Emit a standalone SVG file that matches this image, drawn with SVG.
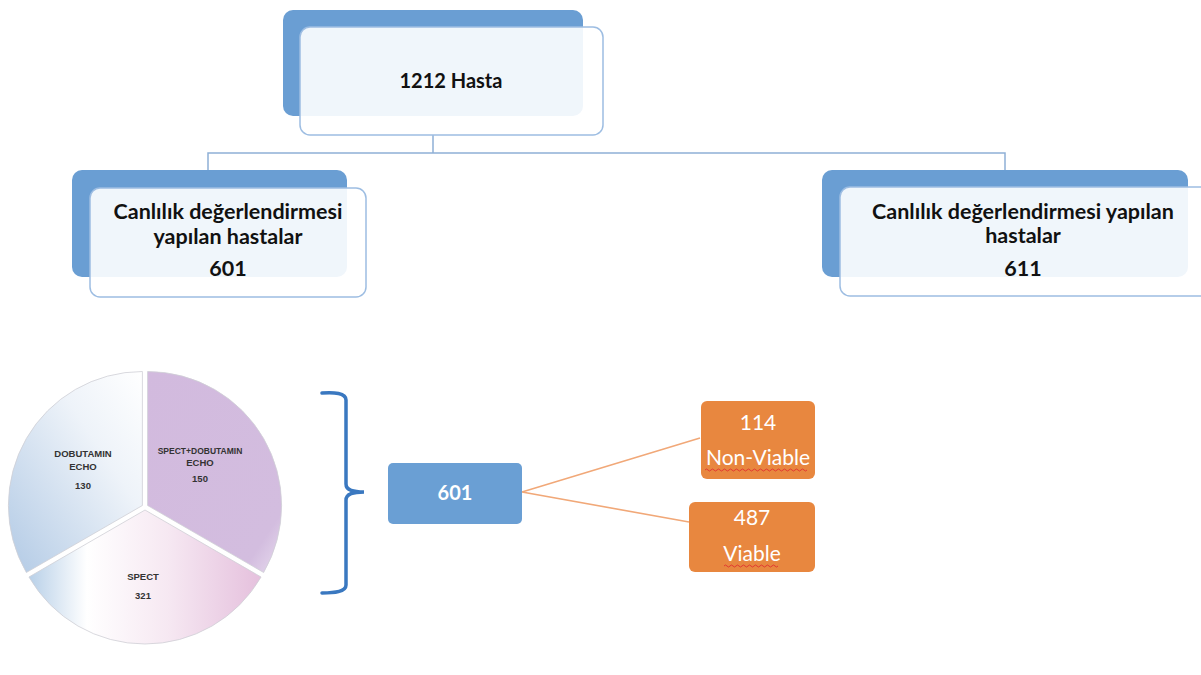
<svg xmlns="http://www.w3.org/2000/svg" width="1201" height="675" viewBox="0 0 1201 675">
<style>
.back{fill:#6a9ed3}
.front{fill:#ffffff;fill-opacity:0.9;stroke:#9dbde2;stroke-width:1.5}
.t{font-family:Lato,"Liberation Sans",sans-serif;font-weight:bold;font-size:21.5px;fill:#111;text-anchor:middle}
.pt{font-family:"Liberation Sans",Arial,sans-serif;font-weight:bold;font-size:9.5px;fill:#333;text-anchor:middle}
.ot{font-family:Lato,"Liberation Sans",sans-serif;font-size:21px;fill:#fff;text-anchor:middle}
.orange{fill:#e8873f}
.conn{fill:none;stroke:#8fb0d6;stroke-width:1.5}
.oconn{fill:none;stroke:#f1a878;stroke-width:1.6}
.wave{fill:none;stroke:#e03030;stroke-width:0.9}
.slice{stroke:#cfcfd6;stroke-width:0.8}
</style>
<defs>
<linearGradient id="gDob" x1="1" y1="0" x2="0" y2="1">
<stop offset="0" stop-color="#ffffff"/>
<stop offset="0.35" stop-color="#eef3f9"/>
<stop offset="1" stop-color="#b2cae5"/>
</linearGradient>
<linearGradient id="gSD" x1="0" y1="0" x2="1" y2="1">
<stop offset="0" stop-color="#d2bade"/>
<stop offset="0.85" stop-color="#d3bddf"/>
<stop offset="1" stop-color="#e8dcef"/>
</linearGradient>
<linearGradient id="gSp" x1="0" y1="0" x2="1" y2="0">
<stop offset="0" stop-color="#b8d0e8"/>
<stop offset="0.25" stop-color="#ffffff"/>
<stop offset="0.6" stop-color="#f6e8f2"/>
<stop offset="1" stop-color="#e5c0dd"/>
</linearGradient>
</defs>

<g id="connectors">
<path class="conn" d="M433 135 V153 M208 170 V153 H1005 V170"/>
<path class="oconn" d="M522 492 L700 438 M522 492 L689 522"/>
</g>

<g id="node-root">
<rect class="back" x="283" y="10" width="300" height="106" rx="10"/>
<rect class="front" x="300" y="27" width="303" height="108" rx="10"/>
<text class="t" x="451" y="88" style="font-size:20px">1212 Hasta</text>
</g>

<g id="node-left">
<rect class="back" x="72" y="170" width="275" height="107" rx="10"/>
<rect class="front" x="90" y="188" width="276" height="109" rx="10"/>
<text class="t" x="228" y="219">Canlılık değerlendirmesi</text>
<text class="t" x="228" y="244">yapılan hastalar</text>
<text class="t" x="228" y="276">601</text>
</g>

<g id="node-right">
<rect class="back" x="822" y="170" width="366" height="107" rx="10"/>
<rect class="front" x="840" y="187" width="380" height="109" rx="10"/>
<text class="t" x="1023" y="219">Canlılık değerlendirmesi yapılan</text>
<text class="t" x="1023" y="243">hastalar</text>
<text class="t" x="1023" y="276">611</text>
</g>

<g id="pie">
<path class="slice" fill="url(#gSD)" transform="translate(2.6,-1.5)" d="M145 507 L145 373 A134 134 0 0 1 261.05 574 Z"/>
<path class="slice" fill="url(#gSp)" transform="translate(0,3)" d="M145 507 L261.05 574 A134 134 0 0 1 28.95 574 Z"/>
<path class="slice" fill="url(#gDob)" transform="translate(-2.6,-1.5)" d="M145 507 L28.95 574 A134 134 0 0 1 145 373 Z"/>
<text class="pt" x="83" y="457">DOBUTAMIN</text>
<text class="pt" x="83" y="470">ECHO</text>
<text class="pt" x="83" y="489">130</text>
<text class="pt" x="200" y="454" style="font-size:8.5px">SPECT+DOBUTAMIN</text>
<text class="pt" x="200" y="466">ECHO</text>
<text class="pt" x="200" y="482">150</text>
<text class="pt" x="143" y="580">SPECT</text>
<text class="pt" x="143" y="599">321</text>
</g>

<g id="brace">
<path d="M322 393 C334 392 346 393 346 400 V484 C346 490 352 492 364 492 C352 492 346 494 346 500 V585 C346 592 334 593 322 593" fill="none" stroke="#3a78c0" stroke-width="3.5" stroke-linecap="round"/>
</g>

<g id="node-601">
<rect x="388" y="463" width="134" height="61" rx="5" fill="#6a9fd4"/>
<text class="t" x="455" y="500" style="fill:#fff;font-size:20px">601</text>
</g>

<g id="node-nonviable">
<rect class="orange" x="701" y="401" width="114" height="78" rx="6"/>
<text class="ot" x="758" y="430">114</text>
<text class="ot" x="758" y="465">Non-Viable</text>
<path class="wave" d="M705 470 q1.5 -2 3 0 t3 0 t3 0 t3 0 t3 0 t3 0 t3 0 t3 0 t3 0 t3 0 t3 0 t3 0 t3 0 t3 0 t3 0 t3 0 t3 0 t3 0 t3 0 t3 0 t3 0 t3 0 t3 0 t3 0 t3 0 t3 0 t3 0 t3 0 t3 0 t3 0 t3 0 t3 0 t3 0 t3 0"/>
</g>

<g id="node-viable">
<rect class="orange" x="689" y="502" width="126" height="70" rx="6"/>
<text class="ot" x="752" y="525">487</text>
<text class="ot" x="752" y="561">Viable</text>
<path class="wave" d="M724 566 q1.5 -2 3 0 t3 0 t3 0 t3 0 t3 0 t3 0 t3 0 t3 0 t3 0 t3 0 t3 0 t3 0 t3 0 t3 0 t3 0 t3 0 t3 0 t3 0"/>
</g>
</svg>
